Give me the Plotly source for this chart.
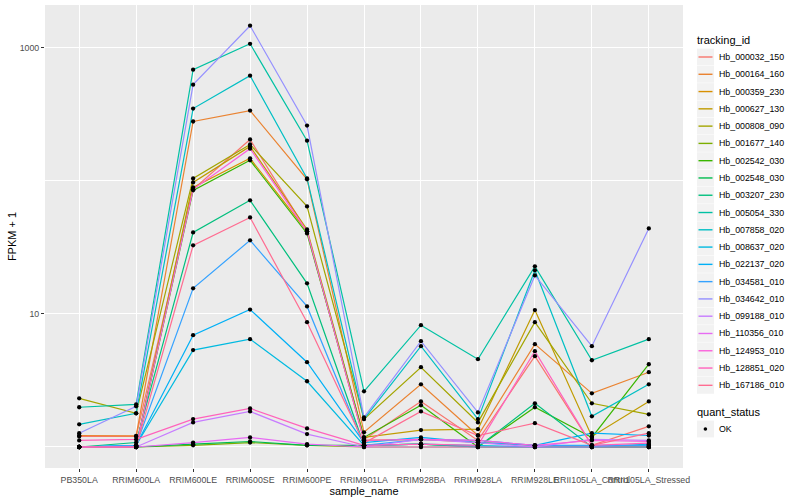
import plotly.graph_objects as go

# ---------------- data ----------------
samples = ["PB350LA", "RRIM600LA", "RRIM600LE", "RRIM600SE", "RRIM600PE",
           "RRIM901LA", "RRIM928BA", "RRIM928LA", "RRIM928LE",
           "RRII105LA_Control", "RRII105LA_Stressed"]

tracking_ids = ["Hb_000032_150", "Hb_000164_160", "Hb_000359_230", "Hb_000627_130",
                "Hb_000808_090", "Hb_001677_140", "Hb_002542_030", "Hb_002548_030",
                "Hb_003207_230", "Hb_005054_330", "Hb_007858_020", "Hb_008637_020",
                "Hb_022137_020", "Hb_034581_010", "Hb_034642_010", "Hb_099188_010",
                "Hb_110356_010", "Hb_124953_010", "Hb_128851_020", "Hb_167186_010"]

colors = ["#F8766D", "#EA8331", "#D89000", "#C09B00", "#A3A500", "#7CAE00", "#39B600",
          "#00BB4E", "#00BF7D", "#00C1A3", "#00BFC4", "#00BAE0", "#00B0F6", "#35A2FF",
          "#9590FF", "#C77CFF", "#E76BF3", "#FA62DB", "#FF62BC", "#FF6C91"]

# FPKM + 1 per sample (order of `samples`)
Hb_000032_150 = [1.20, 1.20, 86.5, 205, 41.8, 1.14, 2.20, 1.12, 4.82, 1.03, 1.43]
Hb_000164_160 = [1.22, 1.21, 280, 338, 103, 1.29, 2.96, 1.22, 5.93, 2.53, 3.65]
Hb_000359_230 = [1.0, 1.0, 89.5, 148, 41.8, 1.12, 1.14, 1.08, 1.03, 1.0, 1.0]
Hb_000627_130 = [1.0, 1.0, 97.5, 182, 43.2, 1.18, 1.34, 1.36, 10.7, 1.20, 2.20]
Hb_000808_090 = [2.32, 1.79, 104.5, 188, 64.4, 1.62, 3.98, 1.53, 8.67, 2.13, 1.76]
Hb_001677_140 = [1.0, 1.0, 1.03, 1.08, 1.03, 1.0, 1.0, 1.0, 1.0, 1.0, 1.0]
Hb_002542_030 = [1.0, 1.0, 85, 143, 40.3, 1.18, 2.06, 1.0, 1.99, 1.18, 4.19]
Hb_002548_030 = [1.0, 1.0, 1.05, 1.10, 1.03, 1.03, 1.05, 1.0, 1.0, 1.0, 1.0]
Hb_003207_230 = [1.0, 1.08, 41.0, 71.5, 17.0, 1.03, 1.05, 1.0, 2.13, 1.0, 1.0]
Hb_005054_330 = [1.99, 2.09, 687, 1075, 201, 2.62, 8.24, 4.57, 22.8, 4.49, 6.47]
Hb_007858_020 = [1.48, 1.79, 350, 619, 104.5, 1.62, 5.73, 1.62, 21.3, 1.70, 2.96]
Hb_008637_020 = [1.0, 1.03, 5.35, 6.47, 3.12, 1.03, 1.05, 1.03, 1.0, 1.0, 1.05]
Hb_022137_020 = [1.0, 1.03, 6.93, 10.8, 4.34, 1.08, 1.18, 1.08, 1.03, 1.27, 1.22]
Hb_034581_010 = [1.0, 1.03, 15.6, 35.8, 11.4, 1.03, 1.14, 1.12, 1.03, 1.03, 1.03]
Hb_034642_010 = [1.27, 2.02, 530, 1470, 261, 1.67, 6.25, 1.82, 19.5, 5.73, 44.0]
Hb_099188_010 = [1.0, 1.0, 1.53, 1.85, 1.25, 1.0, 1.14, 1.08, 1.0, 1.14, 1.12]
Hb_110356_010 = [1.0, 1.0, 1.08, 1.18, 1.05, 1.0, 1.0, 1.0, 1.0, 1.0, 1.0]
Hb_124953_010 = [1.0, 1.0, 86.5, 175, 41.8, 1.12, 1.14, 1.12, 1.03, 1.12, 1.10]
Hb_128851_020 = [1.12, 1.14, 1.62, 1.95, 1.38, 1.03, 1.05, 1.03, 5.25, 1.03, 1.07]
Hb_167186_010 = [1.0, 1.0, 32.8, 53.2, 8.67, 1.07, 1.85, 1.22, 1.51, 1.03, 1.27]

series = [Hb_000032_150, Hb_000164_160, Hb_000359_230, Hb_000627_130, Hb_000808_090,
          Hb_001677_140, Hb_002542_030, Hb_002548_030, Hb_003207_230, Hb_005054_330,
          Hb_007858_020, Hb_008637_020, Hb_022137_020, Hb_034581_010, Hb_034642_010,
          Hb_099188_010, Hb_110356_010, Hb_124953_010, Hb_128851_020, Hb_167186_010]

quant_status = "OK"
y_ticks = [10, 1000]
y_minor = [1, 100]

# ---------------- layout geometry ----------------
W, H = 800, 500
ML, MR, MT, MB = 45, 117, 5, 32
PW, PH = W - ML - MR, H - MT - MB
FONT = "Liberation Sans, Arial, Helvetica, sans-serif"


def px_x(px):
    return (px - ML) / PW


def px_y(py):
    return (H - MB - py) / PH


fig = go.Figure()

for name, col, vals in zip(tracking_ids, colors, series):
    fig.add_trace(go.Scatter(x=samples, y=vals, mode="lines", name=name,
                             line=dict(color=col, width=1.2), showlegend=False))

px_all, py_all = [], []
for vals in series:
    px_all += samples
    py_all += vals
fig.add_trace(go.Scatter(x=px_all, y=py_all, mode="markers", name=quant_status,
                         marker=dict(color="black", size=4.3), showlegend=False))

# ---------------- manual ggplot-like legend ----------------
shapes, annotations = [], []
step = 17.28
annotations.append(dict(text="tracking_id", x=px_x(695), y=px_y(40), xref="paper", yref="paper",
                        xanchor="left", yanchor="middle", showarrow=False,
                        font=dict(size=11, color="black", family=FONT)))
for i, (name, col) in enumerate(zip(tracking_ids, colors)):
    cy = 57 + i * step
    shapes.append(dict(type="rect", xref="paper", yref="paper",
                       x0=px_x(697), x1=px_x(714), y0=px_y(cy - 8.4), y1=px_y(cy + 8.4),
                       fillcolor="#F2F2F2", line=dict(width=0), layer="above"))
    shapes.append(dict(type="line", xref="paper", yref="paper",
                       x0=px_x(698.5), x1=px_x(712.5), y0=px_y(cy), y1=px_y(cy),
                       line=dict(color=col, width=1.4), layer="above"))
    annotations.append(dict(text=name, x=px_x(716.5), y=px_y(cy), xref="paper", yref="paper",
                            xanchor="left", yanchor="middle", showarrow=False,
                            font=dict(size=8.8, color="black", family=FONT)))

annotations.append(dict(text="quant_status", x=px_x(695), y=px_y(412), xref="paper", yref="paper",
                        xanchor="left", yanchor="middle", showarrow=False,
                        font=dict(size=11, color="black", family=FONT)))
shapes.append(dict(type="rect", xref="paper", yref="paper",
                   x0=px_x(697), x1=px_x(714), y0=px_y(429 - 8.4), y1=px_y(429 + 8.4),
                   fillcolor="#F2F2F2", line=dict(width=0), layer="above"))
shapes.append(dict(type="circle", xref="paper", yref="paper",
                   x0=px_x(703.6), x1=px_x(707.2), y0=px_y(427.2), y1=px_y(430.8),
                   fillcolor="black", line=dict(width=0), layer="above"))
annotations.append(dict(text=quant_status, x=px_x(716.5), y=px_y(429), xref="paper", yref="paper",
                        xanchor="left", yanchor="middle", showarrow=False,
                        font=dict(size=8.8, color="black", family=FONT)))

fig.update_layout(
    width=W, height=H,
    margin=dict(l=ML, r=MR, t=MT, b=MB, pad=0),
    paper_bgcolor="white", plot_bgcolor="#EBEBEB",
    font=dict(family=FONT, size=11, color="black"),
    shapes=shapes, annotations=annotations,
    showlegend=False,
)
fig.update_xaxes(
    type="category", categoryorder="array", categoryarray=samples,
    range=[-0.6, len(samples) - 0.4],
    tickmode="array", tickvals=samples, ticktext=samples, tickangle=0,
    showgrid=True, gridcolor="white", gridwidth=1.4,
    ticks="outside", ticklen=3, tickcolor="#333333", tickwidth=1,
    tickfont=dict(size=8.8, color="#4D4D4D", family=FONT),
    showline=False, zeroline=False,
    title=dict(text="sample_name", font=dict(size=11, color="black", family=FONT), standoff=1),
    automargin=False,
)
fig.update_yaxes(
    type="log", range=[-0.158, 3.323],
    tickmode="array", tickvals=y_ticks, ticktext=[str(v) for v in y_ticks],
    showgrid=True, gridcolor="white", gridwidth=1.4,
    minor=dict(tickmode="array", tickvals=y_minor, showgrid=True, gridcolor="white",
               gridwidth=0.7, ticks=""),
    ticks="outside", ticklen=3, tickcolor="#333333", tickwidth=1,
    tickfont=dict(size=8.8, color="#4D4D4D", family=FONT),
    showline=False, zeroline=False,
    title=dict(text="FPKM + 1", font=dict(size=11, color="black", family=FONT), standoff=0),
    automargin=False,
)

fig.write_html("out.html",
               config={"displayModeBar": False},
               post_script="document.body.style.margin='0px';document.body.style.padding='0px';")
